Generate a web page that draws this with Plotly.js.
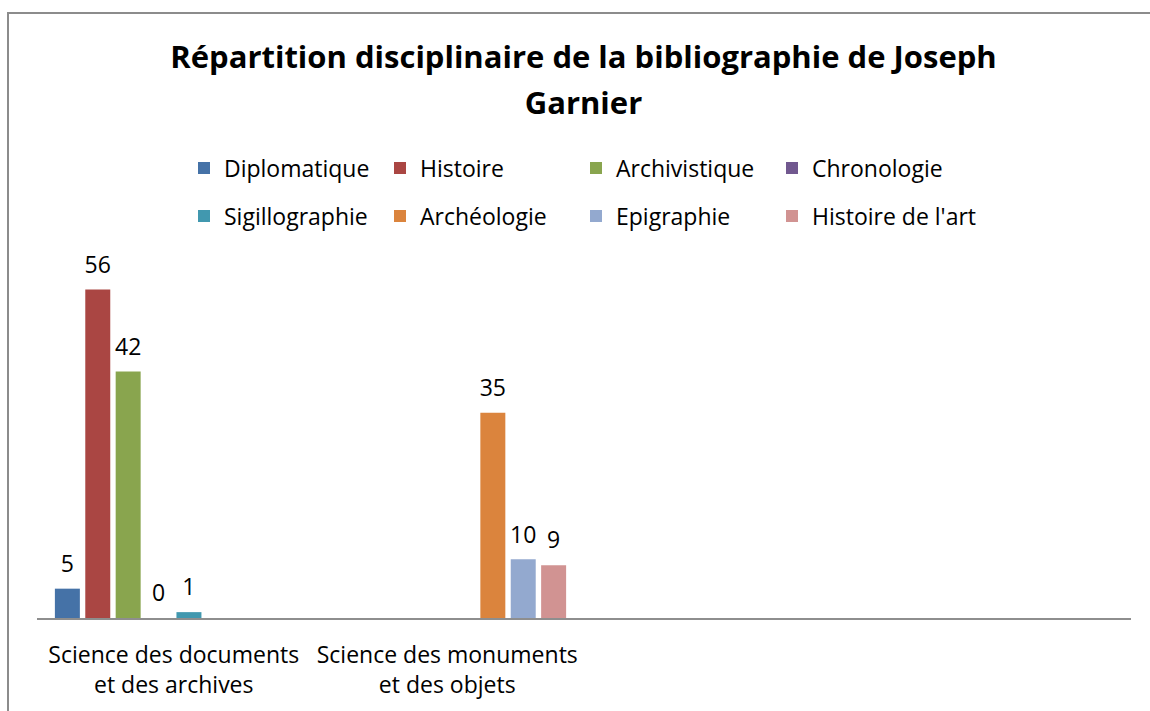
<!DOCTYPE html>
<html><head><meta charset="utf-8">
<script src="https://cdn.plot.ly/plotly-3.0.1.min.js"></script>
<style>
html,body{margin:0;padding:0;background:#fff;}
#wrap{position:relative;width:1150px;height:711px;overflow:hidden;}
#chart{width:1150px;height:711px;}
#frame{position:absolute;left:7px;top:12px;width:2000px;height:2000px;border-left:2px solid #8c8c8c;border-top:2px solid #8c8c8c;pointer-events:none;}
</style></head><body>
<div id="wrap"><div id="chart"></div><div id="frame"></div></div>
<script>
const categories = ['Science des documents<br>et des archives', 'Science des monuments<br>et des objets'];
const categoryPositions = [0, 1];
const seriesNames = ['Diplomatique', 'Histoire', 'Archivistique', 'Chronologie', 'Sigillographie', 'Archéologie', 'Epigraphie', "Histoire de l'art"];
const diplomatique = [5, null];
const histoire = [56, null];
const archivistique = [42, null];
const chronologie = [0, null];
const sigillographie = [1, null];
const archeologie = [null, 35];
const epigraphie = [null, 10];
const histoireArt = [null, 9];
const seriesValues = [diplomatique, histoire, archivistique, chronologie, sigillographie, archeologie, epigraphie, histoireArt];
const seriesColors = ['#4572A7', '#AA4643', '#89A54E', '#71588F', '#4198AF', '#DB843D', '#93A9CF', '#D19392'];
const titleLines = ['Répartition disciplinaire de la bibliographie de Joseph', 'Garnier'];

const FONT = 'Open Sans, Noto Sans, sans-serif';
const traces = [];
seriesNames.forEach(function (name, i) {
  traces.push({
    type: 'bar', name: name, x: categoryPositions, y: seriesValues[i],
    marker: {color: seriesColors[i]},
    legend: i < 4 ? 'legend' : 'legend2', legendwidth: (i % 4 === 3) ? 220 : undefined,
    hoverinfo: 'skip'
  });
});
seriesNames.forEach(function (name, i) {
  traces.push({
    type: 'scatter', mode: 'markers+text', name: name + ' (valeur)', x: categoryPositions, y: seriesValues[i],
    text: seriesValues[i].map(function (v) { return v === null ? '' : String(v); }),
    textposition: 'top center', textfont: {family: FONT, size: 23, color: '#000'},
    marker: {size: 16, color: 'rgba(0,0,0,0)'}, showlegend: false, cliponaxis: false, hoverinfo: 'skip'
  });
});

const legendBase = {
  orientation: 'h', xref: 'container', yref: 'container', x: 184 / 1150, xanchor: 'left', yanchor: 'middle',
  font: {family: FONT, size: 23, color: '#000'}, entrywidth: 151, entrywidthmode: 'pixels',
  traceorder: 'normal', bgcolor: 'rgba(0,0,0,0)', borderwidth: 0
};

const layout = {
  width: 1150, height: 711,
  margin: {l: 37, r: 19, t: 265.5, b: 93, pad: 0},
  paper_bgcolor: '#fff', plot_bgcolor: '#fff',
  font: {family: FONT, color: '#000'},
  barmode: 'group', bargap: 0.111, bargroupgap: 0.178,
  scattermode: 'group', scattergap: 0.111,
  showlegend: true,
  title: {
    text: titleLines.map(function (t) { return '<span style="font-size:31px">' + t + '</span>'; }).join('<br>'),
    font: {family: FONT, size: 35, weight: 700, color: '#000'},
    xref: 'container', x: 583.5 / 1150, xanchor: 'center',
    yref: 'container', y: 1 - 68 / 711, yanchor: 'top'
  },
  xaxis: {
    range: [-0.5, 3.5], tickmode: 'array', tickvals: categoryPositions, ticktext: categories,
    showline: true, linecolor: '#8e8e8e', linewidth: 2, ticks: '', showgrid: false, zeroline: false,
    ticklabelstandoff: 15,
    tickfont: {family: FONT, size: 23, color: '#000'}, fixedrange: true
  },
  yaxis: {range: [0, 60], visible: false, fixedrange: true},
  legend: Object.assign({}, legendBase, {y: 1 - 168 / 711}),
  legend2: Object.assign({}, legendBase, {y: 1 - 216 / 711})
};

Plotly.newPlot('chart', traces, layout, {staticPlot: true, displayModeBar: false});
</script>
</body></html>
